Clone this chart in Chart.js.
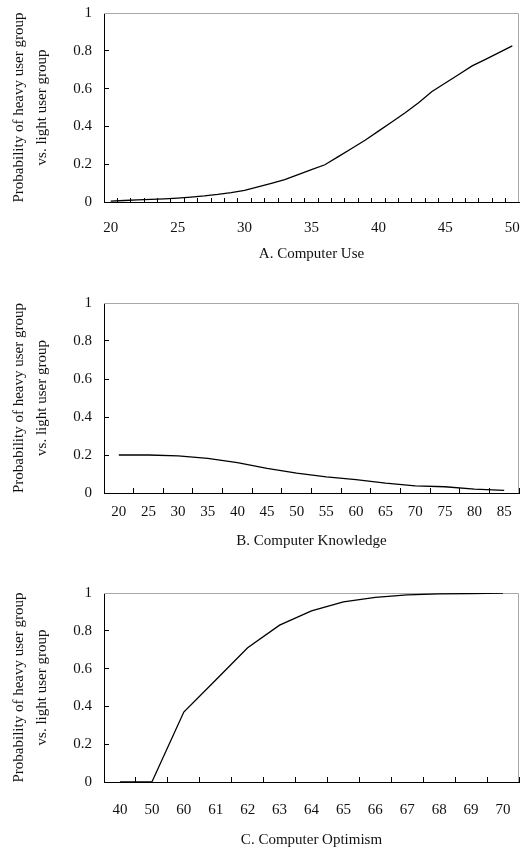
<!DOCTYPE html>
<html>
<head>
<meta charset="utf-8">
<title>Probability of heavy user group</title>
<script src="https://cdn.jsdelivr.net/npm/chart.js@4.4.1/dist/chart.umd.min.js"></script>
<style>
	html, body { margin: 0; padding: 0; background: #fff; }
	.prob-chart { position: absolute; left: 0; width: 523px; }
</style>
</head>
<body>
<div class="prob-chart" style="top:0;height:280px"><canvas id="chart-use"></canvas></div>
<div class="prob-chart" style="top:280px;height:285px"><canvas id="chart-knowledge"></canvas></div>
<div class="prob-chart" style="top:565px;height:287px"><canvas id="chart-optimism"></canvas></div>
<script>
// A. Computer Use
var useLabels = [20, 21, 22, 23, 24, 25, 26, 27, 28, 29, 30, 31, 32, 33, 34, 35, 36, 37, 38, 39, 40, 41, 42, 43, 44, 45, 46, 47, 48, 49, 50];
var useValues = [0.005, 0.008, 0.011, 0.014, 0.017, 0.021, 0.026, 0.032, 0.04, 0.05, 0.062, 0.08, 0.099, 0.119, 0.145, 0.171, 0.197, 0.24, 0.283, 0.327, 0.375, 0.423, 0.472, 0.525, 0.585, 0.63, 0.675, 0.72, 0.755, 0.79, 0.826];

// B. Computer Knowledge
var knowledgeLabels = [20, 25, 30, 35, 40, 45, 50, 55, 60, 65, 70, 75, 80, 85];
var knowledgeValues = [0.2, 0.2, 0.195, 0.182, 0.16, 0.13, 0.105, 0.085, 0.07, 0.052, 0.038, 0.033, 0.02, 0.014];

// C. Computer Optimism
var optimismLabels = [40, 50, 60, 61, 62, 63, 64, 65, 66, 67, 68, 69, 70];
var optimismValues = [0, 0, 0.37, 0.54, 0.71, 0.83, 0.905, 0.953, 0.977, 0.99, 0.995, 0.997, 1];

var yAxisTitle = ['Probability of heavy user group', 'vs. light user group'];

(function () {
	'use strict';

	Chart.defaults.font.family = "'Liberation Serif', 'DejaVu Serif', serif";
	Chart.defaults.font.size = 15;
	Chart.defaults.color = '#111';

	// top and right edges of the plot are a light grey frame
	var frameBorder = {
		id: 'frameBorder',
		beforeDatasetsDraw: function (chart) {
			var area = chart.chartArea,
				ctx = chart.ctx,
				top = Math.round(area.top) + 0.5,
				right = Math.round(area.right) - 0.5;

			ctx.save();
			ctx.strokeStyle = '#a8a8a8';
			ctx.lineWidth = 1;
			ctx.beginPath();
			ctx.moveTo(area.left, top);
			ctx.lineTo(right, top);
			ctx.lineTo(right, area.bottom);
			ctx.stroke();
			ctx.restore();
		}
	};

	// keep the plot area where the layout padding puts it
	function noScalePadding(scale) {
		scale.paddingTop = 0;
		scale.paddingBottom = 0;
		scale.paddingLeft = 0;
		scale.paddingRight = 0;
	}

	var probCharts = {
		charts: [],
		init: function () {
			this.createChart('chart-use', useLabels, useValues, {
				title: 'A. Computer Use', height: 280, top: 13, xHeight: 78,
				tickLength: -4, labelPad: 21, titlePad: 17, every: 5
			});
			this.createChart('chart-knowledge', knowledgeLabels, knowledgeValues, {
				title: 'B. Computer Knowledge', height: 285, top: 23, xHeight: 72,
				tickLength: -5, labelPad: 15, titlePad: 15, every: 1
			});
			this.createChart('chart-optimism', optimismLabels, optimismValues, {
				title: 'C. Computer Optimism', height: 287, top: 28, xHeight: 70,
				tickLength: -5, labelPad: 24, titlePad: 3, every: 1
			});
		},
		createChart: function (id, labels, values, cfg) {
			var canvas = document.getElementById(id);
			canvas.width = 523;
			canvas.height = cfg.height;

			var chart = new Chart(canvas, {
				type: 'line',
				data: {
					labels: labels,
					datasets: [{
						data: values,
						borderColor: '#000',
						borderWidth: 1.3,
						pointRadius: 0,
						tension: 0,
						fill: false
					}]
				},
				options: probCharts.getOptions(labels, cfg),
				plugins: [frameBorder]
			});

			probCharts.charts.push(chart);
		},
		getOptions: function (labels, cfg) {
			return {
				responsive: false,
				devicePixelRatio: 1,
				animation: false,
				layout: { padding: { top: cfg.top, right: 4, bottom: 0, left: 0 } },
				plugins: {
					legend: { display: false },
					tooltip: { enabled: false }
				},
				scales: {
					x: {
						type: 'category',
						offset: true,
						grid: {
							offset: true,
							drawOnChartArea: false,
							drawTicks: true,
							tickLength: cfg.tickLength,
							color: '#000'
						},
						border: { display: true, color: '#000', width: 1 },
						ticks: {
							autoSkip: false,
							maxRotation: 0,
							padding: cfg.labelPad,
							callback: function (value, index) {
								return index % cfg.every === 0 ? labels[index] : '';
							}
						},
						title: {
							display: true,
							text: cfg.title,
							padding: { top: 0, bottom: cfg.titlePad }
						},
						afterFit: function (scale) {
							scale.height = cfg.xHeight;
							noScalePadding(scale);
						}
					},
					y: {
						min: 0,
						max: 1,
						grid: {
							drawOnChartArea: false,
							drawTicks: true,
							tickLength: -5,
							color: '#000'
						},
						border: { display: true, color: '#000', width: 1 },
						ticks: {
							stepSize: 0.2,
							padding: 17,
							callback: function (value) {
								return String(+value.toFixed(1));
							}
						},
						title: {
							display: true,
							text: yAxisTitle,
							font: { size: 15, lineHeight: 1.53 },
							padding: { top: 8, bottom: 0 }
						},
						afterFit: function (scale) {
							scale.width = 104;
							noScalePadding(scale);
						}
					}
				}
			};
		}
	};

	probCharts.init();
})();
</script>
</body>
</html>
